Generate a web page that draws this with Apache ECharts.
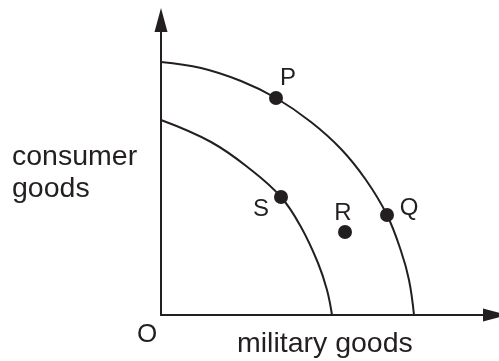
<!DOCTYPE html>
<html>
<head>
<meta charset="utf-8">
<script src="https://cdn.jsdelivr.net/npm/echarts@6/dist/echarts.min.js"></script>
<style>
  html, body { margin: 0; padding: 0; background: #fff; }
  #ppf { width: 499px; height: 361px; }
</style>
</head>
<body>
<div id="ppf"></div>
<script>
// outer frontier
const outerX = [0, 40, 80, 115, 150, 180, 205, 226, 240, 248, 253];
const outerY = [253, 247, 234, 217, 193, 166, 135, 100, 64, 35, 0];

// inner frontier
const innerX = [0, 50, 89, 120, 140, 157, 166, 171];
const innerY = [195, 173, 146, 118, 88, 52, 25, 0];

// labelled points
const pointNames = ['P', 'Q', 'S', 'R'];
const pointX = [115, 226, 120, 184];
const pointY = [217, 100, 118, 83];

const ink = '#231f20';
const font = '"Liberation Sans", Arial, sans-serif';

const labelOffsets = { P: [12, -20], Q: [22, -7], S: [-20, 12], R: [-2, -19] };

const chart = echarts.init(document.getElementById('ppf'));

const pairs = (xs, ys) => xs.map((x, i) => [x, ys[i]]);

const axisCommon = {
    type: 'value',
    min: 0,
    axisLine: {
        show: true,
        onZero: false,
        symbol: ['none', 'triangle'],
        symbolSize: [13, 24],
        lineStyle: { color: ink, width: 2 }
    },
    axisTick: { show: false },
    axisLabel: { show: false },
    splitLine: { show: false }
};

const curveStyle = { color: ink, width: 2 };

chart.setOption({
    animation: false,
    grid: { left: 161, right: 4, top: 20, bottom: 46 },
    xAxis: Object.assign({}, axisCommon, { max: 334 }),
    yAxis: Object.assign({}, axisCommon, { max: 295 }),
    graphic: [
        {
            type: 'text', left: 12, top: 141,
            style: { text: 'consumer\ngoods', font: '28.5px ' + font, fill: ink, lineHeight: 32 }
        },
        {
            type: 'text', left: 137, top: 322,
            style: { text: 'O', font: '26px ' + font, fill: ink }
        },
        {
            type: 'text', left: 237, top: 330,
            style: { text: 'military goods', font: '28.5px ' + font, fill: ink }
        }
    ],
    series: [
        {
            type: 'line', smooth: 0.4, symbol: 'none',
            lineStyle: curveStyle,
            data: pairs(outerX, outerY)
        },
        {
            type: 'line', smooth: 0.4, symbol: 'none',
            lineStyle: curveStyle,
            data: pairs(innerX, innerY)
        },
        {
            type: 'scatter', symbolSize: 14,
            itemStyle: { color: ink, opacity: 1 },
            data: pointNames.map((n, i) => ({
                name: n,
                value: [pointX[i], pointY[i]],
                label: { offset: labelOffsets[n] }
            })),
            label: {
                show: true, position: 'inside', formatter: '{b}',
                color: ink, fontSize: 24, fontFamily: font
            }
        }
    ]
});
</script>
</body>
</html>
